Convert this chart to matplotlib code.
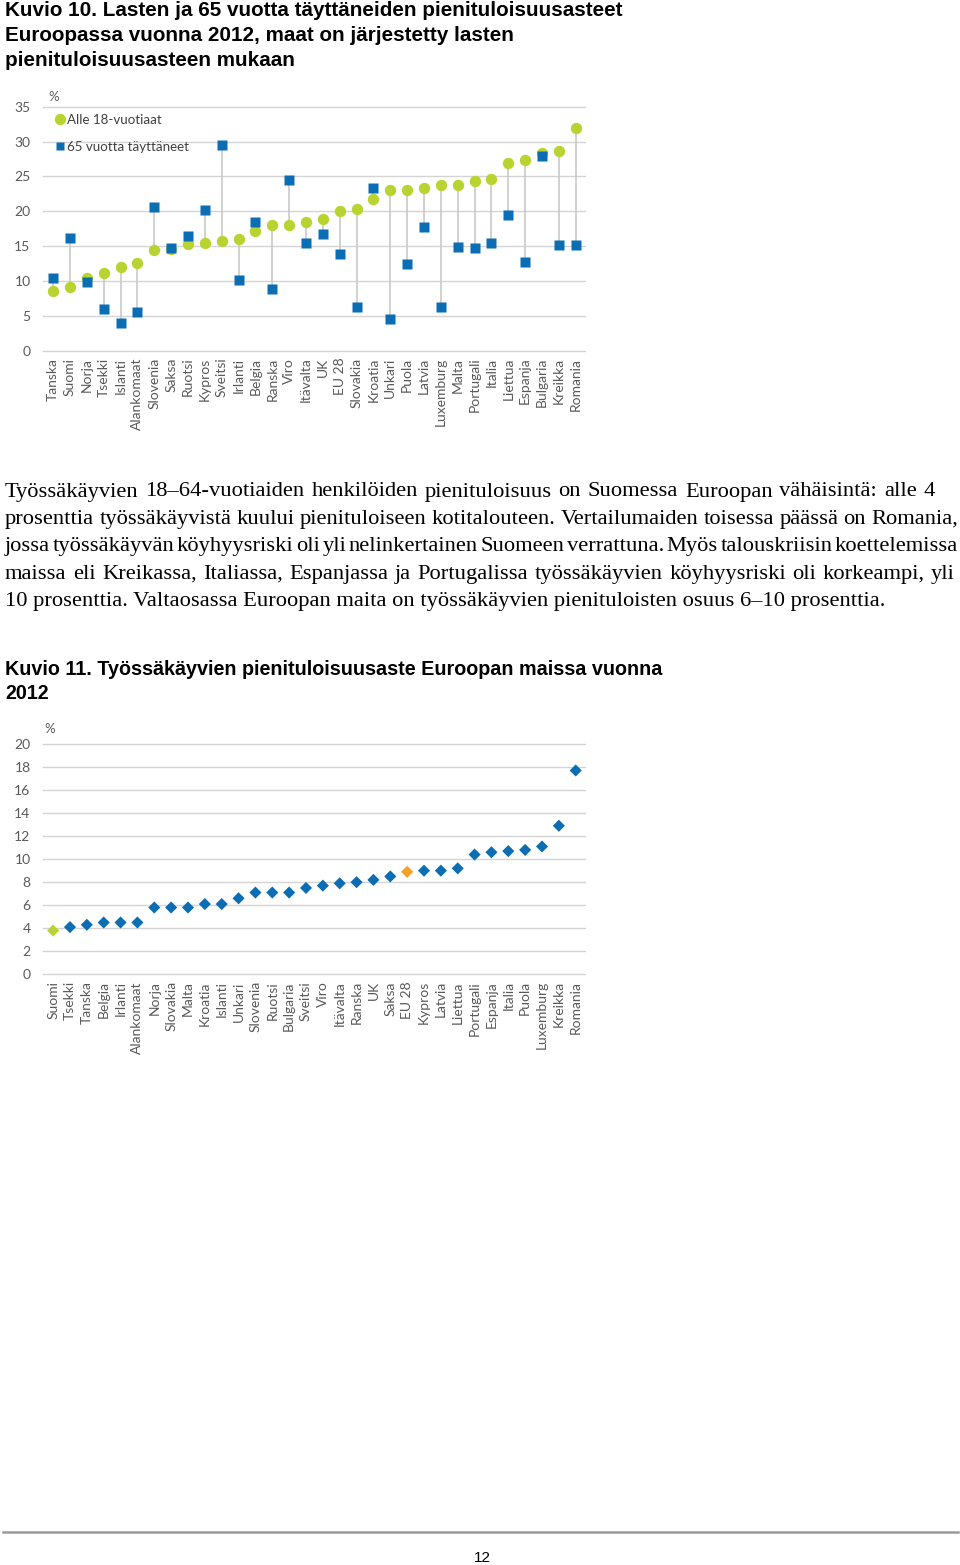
import matplotlib
matplotlib.use("Agg")
import matplotlib.pyplot as plt
from matplotlib.lines import Line2D

# ── data ──────────────────────────────────────────────────────────────────────
countries_1 = ["Tanska", "Suomi", "Norja", "Tsekki", "Islanti", "Alankomaat",
               "Slovenia", "Saksa", "Ruotsi", "Kypros", "Sveitsi", "Irlanti",
               "Belgia", "Ranska", "Viro", "Itävalta", "UK", "EU 28", "Slovakia",
               "Kroatia", "Unkari", "Puola", "Latvia", "Luxemburg", "Malta",
               "Portugali", "Italia", "Liettua", "Espanja", "Bulgaria",
               "Kreikka", "Romania"]
children = [8.5, 9.1, 10.5, 11.2, 12.0, 12.6, 14.5, 14.6, 15.3, 15.4, 15.8, 16.0,
            17.1, 18.0, 18.0, 18.5, 18.9, 20.0, 20.3, 21.7, 23.1, 23.1, 23.3,
            23.8, 23.8, 24.4, 24.7, 26.9, 27.4, 28.4, 28.7, 32.0]
elderly = [10.5, 16.2, 9.8, 6.0, 4.0, 5.6, 20.6, 14.8, 16.5, 20.2, 29.5, 10.1,
           18.5, 8.8, 24.5, 15.4, 16.7, 13.8, 6.2, 23.4, 4.5, 12.4, 17.8, 6.3,
           14.9, 14.7, 15.4, 19.5, 12.7, 27.9, 15.2, 15.1]

countries_2 = ["Suomi", "Tsekki", "Tanska", "Belgia", "Irlanti", "Alankomaat",
               "Norja", "Slovakia", "Malta", "Kroatia", "Islanti", "Unkari",
               "Slovenia", "Ruotsi", "Bulgaria", "Sveitsi", "Viro", "Itävalta",
               "Ranska", "UK", "Saksa", "EU 28", "Kypros", "Latvia", "Liettua",
               "Portugali", "Espanja", "Italia", "Puola", "Luxemburg",
               "Kreikka", "Romania"]
working_poor = [3.8, 4.1, 4.3, 4.5, 4.5, 4.5, 5.8, 5.8, 5.8, 6.1, 6.1, 6.6,
                7.1, 7.1, 7.1, 7.5, 7.7, 7.9, 8.0, 8.2, 8.5, 8.9, 9.0, 9.0,
                9.2, 10.4, 10.6, 10.7, 10.8, 11.1, 12.9, 17.7]

title_1 = ["Kuvio 10. Lasten ja 65 vuotta täyttäneiden pienituloisuusasteet",
           "Euroopassa vuonna 2012, maat on järjestetty lasten",
           "pienituloisuusasteen mukaan"]
title_2 = ["Kuvio 11. Työssäkäyvien pienituloisuusaste Euroopan maissa vuonna",
           "2012"]
paragraph = [
    "Työssäkäyvien 18–64-vuotiaiden henkilöiden pienituloisuus on Suomessa Euroopan vähäisintä: alle 4",
    "prosenttia työssäkäyvistä kuului pienituloiseen kotitalouteen. Vertailumaiden toisessa päässä on Romania,",
    "jossa työssäkäyvän köyhyysriski oli yli nelinkertainen Suomeen verrattuna. Myös talouskriisin koettelemissa",
    "maissa eli Kreikassa, Italiassa, Espanjassa ja Portugalissa työssäkäyvien köyhyysriski oli korkeampi, yli",
    "10 prosenttia. Valtaosassa Euroopan maita on työssäkäyvien pienituloisten osuus 6–10 prosenttia.",
]
line_ends = [935, 958, 958, 955, None]   # justified right edge per line (px)

GREEN  = "#b9d431"
BLUE   = "#0b6db3"
ORANGE = "#f5a023"
GRID   = "#d4d4d4"
TICK   = "#595959"

W, H = 960, 1565
fig = plt.figure(figsize=(W/100, H/100), dpi=100)
fig.patch.set_facecolor("white")

def fx(x): return x / W
def fy(y): return 1 - y / H

def px_axes(x0, x1, ytop, ybot):
    return fig.add_axes([fx(x0), fy(ybot), (x1-x0)/W, (ybot-ytop)/H])

def style_axes(ax, ymax, step, labels):
    ax.set_xlim(-0.6, len(labels) - 0.45)
    ax.set_ylim(0, ymax)
    ax.set_yticks(range(0, ymax + 1, step))
    for y in range(0, ymax + 1, step):
        ax.axhline(y, color=GRID, lw=1.0, zorder=0, clip_on=False)
    for s in ax.spines.values():
        s.set_visible(False)
    ax.tick_params(axis="y", length=0, pad=9, labelsize=10, labelcolor=TICK)
    ax.tick_params(axis="x", length=0, pad=5, labelsize=10, labelcolor=TICK)
    ax.set_xticks(range(len(labels)))
    ax.set_xticklabels(labels, rotation=90, va="top", ha="center")
    for lab in ax.get_xticklabels() + ax.get_yticklabels():
        lab.set_fontfamily("Lato")

# ── title 1 ───────────────────────────────────────────────────────────────────
for i, line in enumerate(title_1):
    fig.text(fx(5), fy(11 + i * 24.5), line, fontsize=14.9, fontweight="bold",
             family="Liberation Sans", va="center", ha="left")

# ── chart 1 ───────────────────────────────────────────────────────────────────
ax1 = px_axes(43, 585, 106.7, 350.7)
style_axes(ax1, 35, 5, countries_1)
xs = range(len(countries_1))
ax1.vlines(xs, children, elderly, color="#c9c9c9", lw=1.2, zorder=1)
ax1.plot(xs, children, "o", color=GREEN, ms=8.2, mec="none", zorder=2)
ax1.plot(xs, elderly, "s", color=BLUE, ms=7.0, mec="none", zorder=3)
fig.text(fx(48), fy(97), "%", fontsize=9.5, color=TICK, family="Lato", va="center")
handles = [Line2D([], [], ls="none", marker="o", color=GREEN, ms=8.2, mec="none"),
           Line2D([], [], ls="none", marker="s", color=BLUE, ms=6.0, mec="none")]
ax1.legend(handles, ["Alle 18-vuotiaat", "65 vuotta täyttäneet"],
           loc="upper left", bbox_to_anchor=(fx(66) - fx(43), 1 - (114 - 106.7) / 244),
           bbox_transform=ax1.transAxes, frameon=False, handlelength=0.6,
           handletextpad=0.25, labelspacing=1.1, borderpad=0, borderaxespad=0,
           prop={"family": "Lato", "size": 9.6}, labelcolor="#404040")

# ── paragraph (justified) ─────────────────────────────────────────────────────
renderer = fig.canvas.get_renderer()
for i, (line, x_end) in enumerate(zip(paragraph, line_ends)):
    y = fy(492 + i * 27.4)
    if x_end is None:
        fig.text(fx(5), y, line, fontsize=16.2, family="Liberation Serif",
                 va="center", ha="left")
        continue
    words = line.split(" ")
    texts = [fig.text(0, y, w, fontsize=16.2, family="Liberation Serif",
                      va="center", ha="left") for w in words]
    widths = [t.get_window_extent(renderer).width for t in texts]
    gap = (x_end - 5 - sum(widths)) / (len(words) - 1)
    x = 5
    for t, w in zip(texts, widths):
        t.set_x(fx(x))
        x += w + gap

# ── title 2 ───────────────────────────────────────────────────────────────────
for i, line in enumerate(title_2):
    fig.text(fx(5), fy(669 + i * 24.5), line, fontsize=14.2, fontweight="bold",
             family="Liberation Sans", va="center", ha="left")

# ── chart 2 ───────────────────────────────────────────────────────────────────
ax2 = px_axes(43, 585, 744, 974.3)
style_axes(ax2, 20, 2, countries_2)
colors_2 = [GREEN if c == "Suomi" else ORANGE if c == "EU 28" else BLUE
            for c in countries_2]
ax2.scatter(range(len(countries_2)), working_poor, marker="D", s=38,
            c=colors_2, edgecolors="none", zorder=3)
fig.text(fx(44), fy(729), "%", fontsize=9.5, color=TICK, family="Lato", va="center")

# ── footer ────────────────────────────────────────────────────────────────────
fig.add_artist(Line2D([fx(3), fx(958)], [fy(1532), fy(1532)], color="#9a9a9a", lw=1.8))
fig.text(fx(482), fy(1558), "12", fontsize=11, family="Liberation Sans",
         ha="center", va="center")

fig.savefig("out.png", dpi=100)
